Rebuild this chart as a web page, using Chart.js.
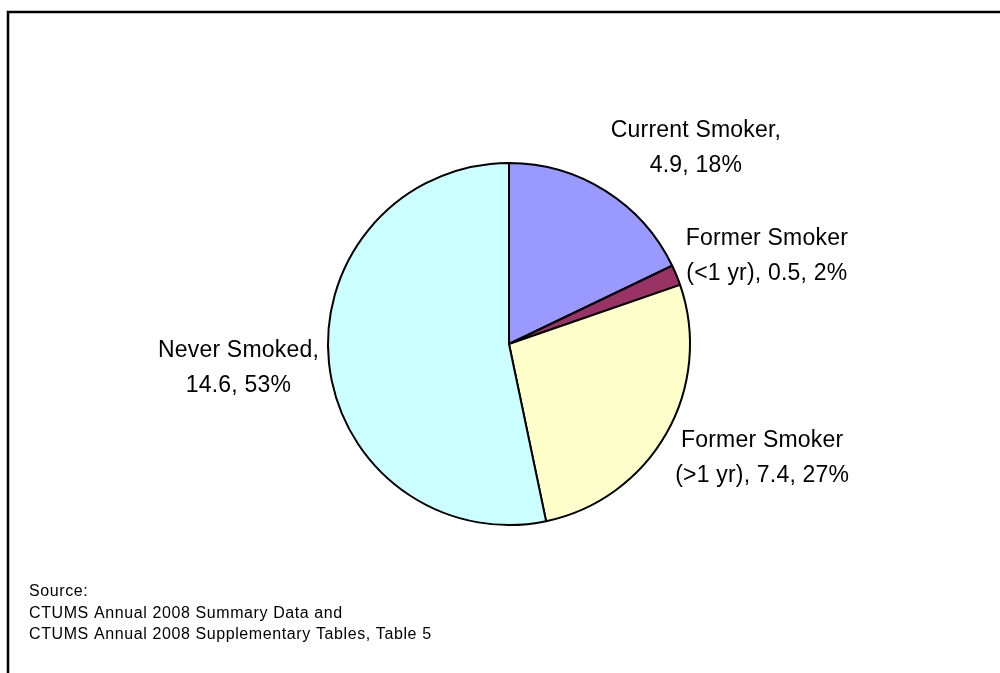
<!DOCTYPE html>
<html>
<head>
<meta charset="utf-8">
<script src="https://cdn.jsdelivr.net/npm/chart.js@4"></script>
<style>
  html, body { margin: 0; padding: 0; background: #fff; }
  #wrap { width: 1000px; height: 673px; position: relative; }
</style>
</head>
<body>
<div id="wrap"><canvas id="chart"></canvas></div>
<script>
const categories = ['Current Smoker', 'Former Smoker (<1 yr)', 'Former Smoker (>1 yr)', 'Never Smoked'];
const values = [4.9, 0.5, 7.4, 14.6];
const colors = ['#9999FF', '#993366', '#FFFFCC', '#CCFFFF'];
const sourceLines = [
    'Source:',
    'CTUMS Annual 2008 Summary Data and',
    'CTUMS Annual 2008 Supplementary Tables, Table 5'
];

const total = values.reduce((a, b) => a + b, 0);
const labelFont = '23px "Liberation Sans", Arial, sans-serif';

// greedy word wrap for the data labels
const wrapText = (ctx, text, maxWidth) => {
    const words = text.split(' ');
    const lines = [];
    let line = '';
    words.forEach(w => {
        const test = line ? line + ' ' + w : w;
        if (line && ctx.measureText(test).width > maxWidth) {
            lines.push(line);
            line = w;
        } else {
            line = test;
        }
    });
    if (line) lines.push(line);
    return lines;
};

// the outer frame, only top and left edges fall inside the canvas
const framePlugin = {
    id: 'frame',
    beforeDraw(chart) {
        const c = chart.ctx;
        c.save();
        c.strokeStyle = '#000';
        c.lineWidth = 2.5;
        c.strokeRect(8, 12, chart.width + 20, chart.height + 20);
        c.restore();
    }
};

// labels placed outside each slice: "name, value, pct%"
const outsideLabels = {
    id: 'outsideLabels',
    afterDatasetsDraw(chart) {
        const c = chart.ctx;
        const meta = chart.getDatasetMeta(0);
        c.save();
        c.font = labelFont;
        c.letterSpacing = '0.2px';
        c.fillStyle = '#000';
        c.textBaseline = 'middle';
        c.textAlign = 'center';
        meta.data.forEach((arc, i) => {
            const mid = (arc.startAngle + arc.endAngle) / 2;
            const dx = Math.cos(mid), dy = Math.sin(mid);
            const r = arc.outerRadius + 10;
            const px = arc.x + r * dx;
            const py = arc.y + r * dy;
            const pct = Math.round(values[i] / total * 100);
            const text = categories[i] + ', ' + values[i] + ', ' + pct + '%';
            const lines = wrapText(c, text, 195);
            const boxW = Math.max(...lines.map(l => c.measureText(l).width));
            const lh = 35;
            const cx = dx >= 0 ? px + boxW / 2 : px - boxW / 2;
            const cy = py + dy * 40;
            const top = cy - lines.length * lh / 2;
            lines.forEach((l, j) => c.fillText(l, cx, top + lh * (j + 0.5)));
        });

        c.font = '16px "Liberation Sans", Arial, sans-serif';
        c.letterSpacing = '0.6px';
        c.textAlign = 'left';
        sourceLines.forEach((l, j) => c.fillText(l, 29, 592 + j * 21.5));
        c.restore();
    }
};

const ctx = document.querySelector('#chart').getContext('2d');
const chartPie = new Chart(ctx, {
    type: 'pie',
    data: {
        labels: categories,
        datasets: [{
            data: values,
            backgroundColor: colors,
            borderColor: '#000',
            borderWidth: 2
        }]
    },
    options: {
        responsive: true,
        maintainAspectRatio: false,
        animation: false,
        radius: 181,
        layout: {
            padding: { left: 118, right: 100, top: 115, bottom: 100 }
        },
        plugins: {
            legend: { display: false },
            tooltip: { enabled: false }
        }
    },
    plugins: [framePlugin, outsideLabels]
});
</script>
</body>
</html>
